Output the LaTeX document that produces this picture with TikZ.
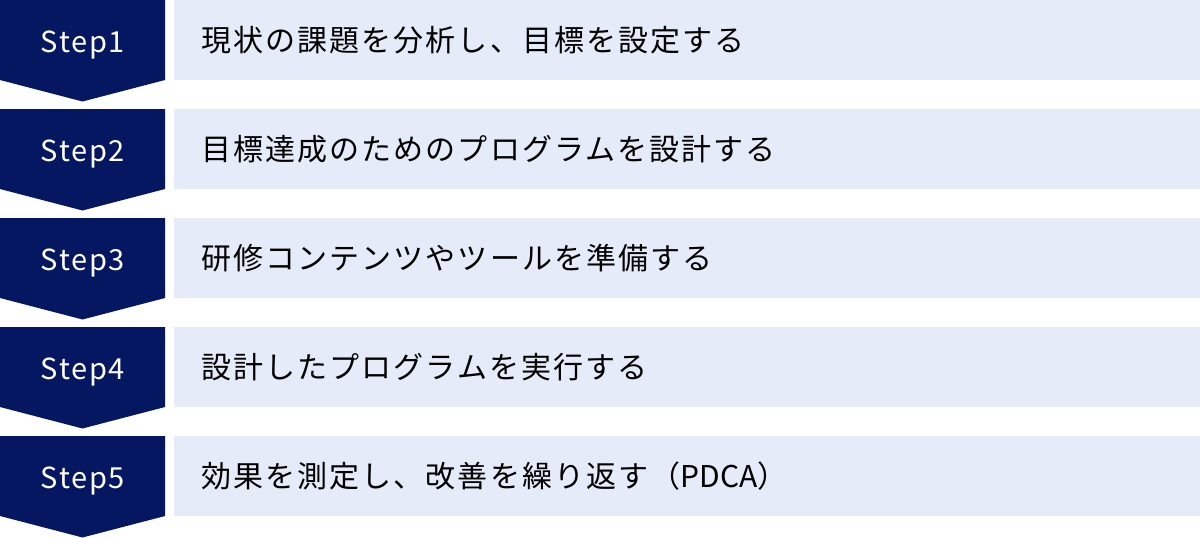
\documentclass[tikz,border=0pt]{standalone}
\usepackage{fontspec}
\setmainfont{Noto Sans CJK JP}
\newfontfamily\stepfont[LetterSpace=6]{Noto Sans CJK JP}
\newfontfamily\rowfont[LetterSpace=7]{Noto Sans CJK JP}
\newfontfamily\latinfont{Noto Sans CJK JP}
\usetikzlibrary{positioning}
\definecolor{stepnavy}{RGB}{4,23,96}
\definecolor{rowblue}{RGB}{229,235,249}

\begin{document}
\begin{tikzpicture}[x=1pt, y=-1pt,
  steplabel/.style={text=white, inner sep=0pt, anchor=base, font=\stepfont\fontsize{29}{34}\selectfont},
  rowtext/.style={text=black, inner sep=0pt, anchor=base west, font=\rowfont\fontsize{30}{36}\selectfont}]
  \useasboundingbox (0,0) rectangle (1200,538);
  \foreach \i/\txt in {1/現状の課題を分析し、目標を設定する,
                       2/目標達成のためのプログラムを設計する,
                       3/研修コンテンツやツールを準備する,
                       4/設計したプログラムを実行する,
                       5/効果を測定し、改善を繰り返す（{\latinfont PDCA}）}
  {
  \pgfmathsetmacro{\rowtop}{109*(\i-1)}
  \fill[stepnavy] (0,\rowtop) -- (165,\rowtop) -- (165,\rowtop+80) -- (82.5,\rowtop+101.5) -- (0,\rowtop+80) -- cycle;
  \fill[rowblue] (174,\rowtop) rectangle (1200,\rowtop+80);
  \node[steplabel] (s\i) at (83,\rowtop+52) {Step\i};
  \node[rowtext] (t\i) at (201,\rowtop+51) {\txt};
  }
\end{tikzpicture}
\end{document}
